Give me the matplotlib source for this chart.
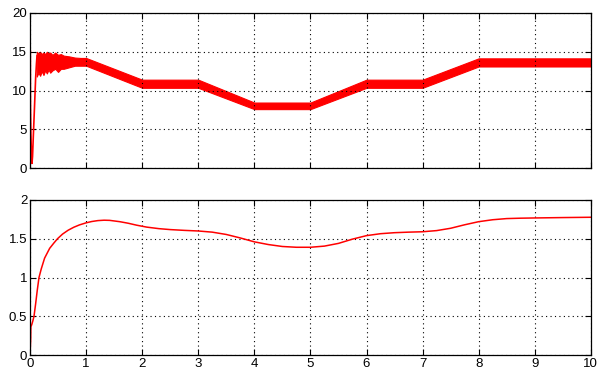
import numpy as np
import matplotlib
matplotlib.use("Agg")
import matplotlib.pyplot as plt

plt.rcParams['font.family'] = ['Liberation Sans', 'DejaVu Sans']

# start-up transient of the switched signal (time, value)
t_start = [0.0, 0.004, 0.008, 0.015, 0.025, 0.035, 0.045, 0.06, 0.08, 0.10, 0.115, 0.125]
y_start = [0.0, 15.2, 8.0, 4.5, 2.0, 0.6, 1.5, 4.3, 7.9, 11.6, 13.5, 14.5]

# ripple envelope of the switched signal (time, lower, upper)
t_band = [0.12, 0.15, 0.18, 0.21, 0.24, 0.27, 0.3, 0.33, 0.36, 0.4, 0.45, 0.5, 0.55, 0.6, 0.7, 0.8, 0.9, 1.0,
          2.0, 3.0, 4.0, 5.0, 6.0, 7.0, 8.0, 10.0]
lo_band = [11.8, 12.3, 11.9, 12.5, 12.0, 12.6, 12.2, 12.7, 12.3, 12.6, 12.8, 12.4, 12.8, 12.8, 13.0, 13.2, 13.2, 13.2,
           10.35, 10.35, 7.6, 7.6, 10.35, 10.35, 13.1, 13.1]
hi_band = [15.0, 14.8, 15.0, 14.7, 14.9, 14.7, 15.0, 14.8, 14.9, 14.6, 14.9, 14.6, 14.7, 14.5, 14.4, 14.25, 14.2, 14.2,
           11.4, 11.4, 8.45, 8.45, 11.4, 11.4, 14.15, 14.15]

# filtered output
t_out = [0.0, 0.012, 0.015, 0.03, 0.05, 0.071, 0.1, 0.13, 0.16, 0.2, 0.26, 0.35, 0.42, 0.49, 0.58,
         0.68, 0.78, 0.88, 1.0, 1.1, 1.21, 1.32, 1.42, 1.6, 1.75, 1.9, 2.08, 2.3, 2.5, 2.75, 3.0, 3.25, 3.5,
         3.75, 4.0, 4.25, 4.5, 4.75, 5.0, 5.25, 5.5, 5.75, 6.0, 6.25, 6.5, 6.75, 7.0, 7.25, 7.5, 7.75,
         8.0, 8.25, 8.5, 8.75, 9.0, 9.5, 10.0]
y_out = [0.0, 0.21, 0.365, 0.39, 0.44, 0.5, 0.66, 0.84, 1.0, 1.11, 1.25, 1.376, 1.44, 1.5, 1.56,
         1.61, 1.648, 1.678, 1.705, 1.722, 1.734, 1.739, 1.737, 1.72, 1.70, 1.675, 1.65, 1.63, 1.618, 1.608,
         1.60, 1.585, 1.555, 1.51, 1.46, 1.425, 1.40, 1.39, 1.39, 1.405, 1.44, 1.495, 1.54, 1.565, 1.578,
         1.585, 1.59, 1.605, 1.635, 1.68, 1.72, 1.745, 1.76, 1.765, 1.768, 1.773, 1.777]

fig = plt.figure(figsize=(5.98, 3.71), dpi=100)
ax1 = fig.add_axes([0.0502, 0.547, 0.9378, 0.418])
ax2 = fig.add_axes([0.0502, 0.043, 0.9378, 0.418])

ax1.fill_between(t_band, lo_band, hi_band, color="red", linewidth=0.8, edgecolor="red")
ax1.plot(t_start, y_start, color="red", linewidth=1.2)
ax1.set_ylim(0, 20)
ax1.set_yticks([0, 5, 10, 15, 20])
ax1.set_xticklabels([])

ax2.plot(t_out, y_out, color="red", linewidth=1.1)
ax2.set_ylim(0, 2)
ax2.set_yticks([0, 0.5, 1, 1.5, 2])
ax2.set_yticklabels(["0", "0.5", "1", "1.5", "2"])

for ax in (ax1, ax2):
    ax.set_xlim(0, 10)
    ax.set_xticks(range(0, 11))
    ax.grid(True, linestyle=(0, (1, 3)), color="black", linewidth=0.8)
    ax.tick_params(direction="in", top=True, right=True, length=4, labelsize=9.5, pad=2)
    for s in ax.spines.values():
        s.set_linewidth(0.9)
ax2.set_xticklabels([str(i) for i in range(11)])

fig.savefig("out.png", dpi=100)
